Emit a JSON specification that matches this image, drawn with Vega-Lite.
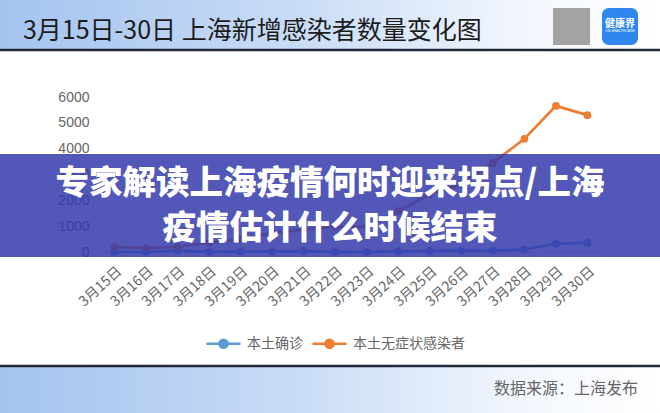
{
  "$schema": "https://vega.github.io/schema/vega-lite/v6.json",
  "width": 660,
  "height": 413,
  "autosize": {"type": "none"},
  "padding": 0,
  "background": "#ffffff",
  "config": {"view": {"stroke": null}, "font": "Noto Sans CJK SC"},
  "data": {
    "values": [
      {"date": "3月15日", "day": 15, "series": "本土确诊", "count": 5},
      {"date": "3月16日", "day": 16, "series": "本土确诊", "count": 8},
      {"date": "3月17日", "day": 17, "series": "本土确诊", "count": 57},
      {"date": "3月18日", "day": 18, "series": "本土确诊", "count": 8},
      {"date": "3月19日", "day": 19, "series": "本土确诊", "count": 17},
      {"date": "3月20日", "day": 20, "series": "本土确诊", "count": 24},
      {"date": "3月21日", "day": 21, "series": "本土确诊", "count": 31},
      {"date": "3月22日", "day": 22, "series": "本土确诊", "count": 4},
      {"date": "3月23日", "day": 23, "series": "本土确诊", "count": 4},
      {"date": "3月24日", "day": 24, "series": "本土确诊", "count": 29},
      {"date": "3月25日", "day": 25, "series": "本土确诊", "count": 38},
      {"date": "3月26日", "day": 26, "series": "本土确诊", "count": 45},
      {"date": "3月27日", "day": 27, "series": "本土确诊", "count": 50},
      {"date": "3月28日", "day": 28, "series": "本土确诊", "count": 96},
      {"date": "3月29日", "day": 29, "series": "本土确诊", "count": 326},
      {"date": "3月30日", "day": 30, "series": "本土确诊", "count": 355},
      {"date": "3月15日", "day": 15, "series": "本土无症状感染者", "count": 197},
      {"date": "3月16日", "day": 16, "series": "本土无症状感染者", "count": 150},
      {"date": "3月17日", "day": 17, "series": "本土无症状感染者", "count": 203},
      {"date": "3月18日", "day": 18, "series": "本土无症状感染者", "count": 366},
      {"date": "3月19日", "day": 19, "series": "本土无症状感染者", "count": 492},
      {"date": "3月20日", "day": 20, "series": "本土无症状感染者", "count": 734},
      {"date": "3月21日", "day": 21, "series": "本土无症状感染者", "count": 865},
      {"date": "3月22日", "day": 22, "series": "本土无症状感染者", "count": 977},
      {"date": "3月23日", "day": 23, "series": "本土无症状感染者", "count": 979},
      {"date": "3月24日", "day": 24, "series": "本土无症状感染者", "count": 1580},
      {"date": "3月25日", "day": 25, "series": "本土无症状感染者", "count": 2231},
      {"date": "3月26日", "day": 26, "series": "本土无症状感染者", "count": 2631},
      {"date": "3月27日", "day": 27, "series": "本土无症状感染者", "count": 3450},
      {"date": "3月28日", "day": 28, "series": "本土无症状感染者", "count": 4381},
      {"date": "3月29日", "day": 29, "series": "本土无症状感染者", "count": 5656},
      {"date": "3月30日", "day": 30, "series": "本土无症状感染者", "count": 5298}
    ]
  },
  "layer": [
    {
      "data": {"values": [{}]},
      "mark": {"type": "rect", "color": {"gradient": "linear", "x1": 0, "y1": 0, "x2": 1, "y2": 0, "stops": [{"offset": 0, "color": "#a4c3ef"}, {"offset": 0.45, "color": "#c9dcf6"}, {"offset": 0.8, "color": "#f3f7fd"}, {"offset": 1, "color": "#ffffff"}]}},
      "encoding": {
        "y": {"datum": 9755, "type": "quantitative", "axis": null},
        "y2": {"datum": 7819}
      }
    },
    {
      "data": {"values": [{}]},
      "mark": {"type": "rule", "color": "#232838", "strokeWidth": 2.5},
      "encoding": {"y": {"datum": 7819, "type": "quantitative", "axis": null}}
    },
    {
      "data": {"values": [{}]},
      "mark": {"type": "text", "text": "3月15日-30日 上海新增感染者数量变化图", "align": "left", "baseline": "middle", "fontSize": 25, "color": "#1c1c1c", "font": "Noto Sans CJK SC"},
      "encoding": {
        "x": {"datum": 12.098, "type": "quantitative", "axis": null},
        "y": {"datum": 8555, "type": "quantitative", "axis": null}
      }
    },
    {
      "data": {"values": [{}]},
      "mark": {"type": "rect", "color": "#a3a3a3"},
      "encoding": {
        "x": {"datum": 28.908, "type": "quantitative", "axis": null},
        "x2": {"datum": 30.082},
        "y": {"datum": 9445, "type": "quantitative", "axis": null},
        "y2": {"datum": 8013}
      }
    },
    {
      "data": {"values": [{}]},
      "mark": {"type": "rect", "color": "#2f87ee", "cornerRadius": 7},
      "encoding": {
        "x": {"datum": 30.462, "type": "quantitative", "axis": null},
        "x2": {"datum": 31.604},
        "y": {"datum": 9445, "type": "quantitative", "axis": null},
        "y2": {"datum": 8013}
      }
    },
    {
      "data": {"values": [{}]},
      "mark": {"type": "text", "text": "健康界", "align": "center", "baseline": "middle", "fontSize": 10, "fontWeight": "bold", "color": "#ffffff", "font": "Noto Sans CJK SC"},
      "encoding": {
        "x": {"datum": 31.033, "type": "quantitative", "axis": null},
        "y": {"datum": 8826, "type": "quantitative", "axis": null}
      }
    },
    {
      "data": {"values": [{}]},
      "mark": {"type": "text", "text": "CN-HEALTHCARE", "align": "center", "baseline": "middle", "fontSize": 3.5, "color": "#ffffff", "font": "Liberation Sans"},
      "encoding": {
        "x": {"datum": 31.033, "type": "quantitative", "axis": null},
        "y": {"datum": 8555, "type": "quantitative", "axis": null}
      }
    },
    {
      "data": {"values": [{}]},
      "mark": {"type": "rect", "color": {"gradient": "linear", "x1": 0, "y1": 0, "x2": 1, "y2": 0, "stops": [{"offset": 0, "color": "#a4c3ef"}, {"offset": 0.45, "color": "#c9dcf6"}, {"offset": 0.8, "color": "#f3f7fd"}, {"offset": 1, "color": "#ffffff"}]}},
      "encoding": {
        "y": {"datum": -4452, "type": "quantitative", "axis": null},
        "y2": {"datum": -6300}
      }
    },
    {
      "data": {"values": [{}]},
      "mark": {"type": "rule", "color": "#232838", "strokeWidth": 2.5},
      "encoding": {"y": {"datum": -4413, "type": "quantitative", "axis": null}}
    },
    {
      "data": {"values": [{}]},
      "mark": {"type": "text", "text": "数据来源：上海发布", "align": "right", "baseline": "middle", "fontSize": 16, "color": "#666666", "font": "Noto Sans CJK SC"},
      "encoding": {
        "x": {"datum": 31.604, "type": "quantitative", "axis": null},
        "y": {"datum": -5303, "type": "quantitative", "axis": null}
      }
    },
    {
      "data": {"values": [{}]},
      "mark": {"type": "rule", "color": "#cccccc", "strokeWidth": 1},
      "encoding": {
        "x": {"datum": 14.5, "type": "quantitative", "axis": {"orient": "bottom", "values": [14.5, 15.5, 16.5, 17.5, 18.5, 19.5, 20.5, 21.5, 22.5, 23.5, 24.5, 25.5, 26.5, 27.5, 28.5, 29.5, 30.5], "labels": false, "domain": false, "ticks": true, "tickSize": 5, "tickColor": "#cccccc", "grid": false, "title": null, "offset": -161}},
        "x2": {"datum": 30.5},
        "y": {"datum": 0, "type": "quantitative", "axis": null}
      }
    },
    {
      "mark": {"type": "line", "strokeWidth": 2.7, "point": {"filled": true, "size": 60}},
      "encoding": {
        "x": {
          "field": "day", "type": "quantitative",
          "scale": {"domain": [11.369, 32.301], "nice": false, "zero": false},
          "axis": {"orient": "bottom", "values": [15, 16, 17, 18, 19, 20, 21, 22, 23, 24, 25, 26, 27, 28, 29, 30], "labelExpr": "'3月' + datum.value + '日'", "labelAngle": -42, "labelAlign": "right", "labelBaseline": "top", "labelPadding": 12, "labelOverlap": false, "labelBound": false, "labelFlush": false, "ticks": false, "domain": false, "grid": false, "title": null, "offset": -161, "labelFontSize": 14, "labelColor": "#666666", "labelFont": "Noto Sans CJK SC"}
        },
        "y": {
          "field": "count", "type": "quantitative",
          "scale": {"domain": [-6232, 9755], "nice": false, "zero": false},
          "axis": {"orient": "left", "values": [0, 1000, 2000, 3000, 4000, 5000, 6000], "format": "d", "offset": -91, "labelPadding": 2, "ticks": false, "domain": false, "grid": false, "title": null, "labelFontSize": 14, "labelColor": "#666666", "labelFont": "Liberation Sans", "labelOverlap": false}
        },
        "color": {
          "field": "series", "type": "nominal",
          "scale": {"domain": ["本土确诊", "本土无症状感染者"], "range": ["#5b9bd5", "#ed7d31"]},
          "legend": {
            "orient": "none", "legendX": 205, "legendY": 325, "direction": "horizontal", "title": null, "padding": 0,
            "labelFontSize": 14, "labelColor": "#666666", "labelFont": "Noto Sans CJK SC", "labelOffset": 5, "columnPadding": 4,
            "symbolType": "M-1,0L1,0M-0.24,0A0.24,0.24,0,1,1,0.24,0A0.24,0.24,0,1,1,-0.24,0Z",
            "symbolSize": 1156, "symbolStrokeWidth": 2.5,
            "encode": {"symbols": {"update": {"fill": {"scale": "color", "field": "value"}, "stroke": {"scale": "color", "field": "value"}}}}
          }
        }
      }
    },
    {
      "data": {"values": [{}]},
      "mark": {"type": "rect", "color": "#3439ac", "opacity": 0.85},
      "encoding": {
        "y": {"datum": 3794, "type": "quantitative", "axis": null},
        "y2": {"datum": -193}
      }
    },
    {
      "data": {"values": [{}]},
      "mark": {"type": "text", "text": "专家解读上海疫情何时迎来拐点/上海", "align": "center", "baseline": "middle", "fontSize": 33.5, "fontWeight": 900, "color": "#ffffff", "font": "Noto Sans CJK SC"},
      "encoding": {"y": {"datum": 2633, "type": "quantitative", "axis": null}}
    },
    {
      "data": {"values": [{}]},
      "mark": {"type": "text", "text": "疫情估计什么时候结束", "align": "center", "baseline": "middle", "fontSize": 33.5, "fontWeight": 900, "color": "#ffffff", "font": "Noto Sans CJK SC"},
      "encoding": {"y": {"datum": 890, "type": "quantitative", "axis": null}}
    }
  ],
  "resolve": {"axis": {"x": "independent", "y": "independent"}}
}
